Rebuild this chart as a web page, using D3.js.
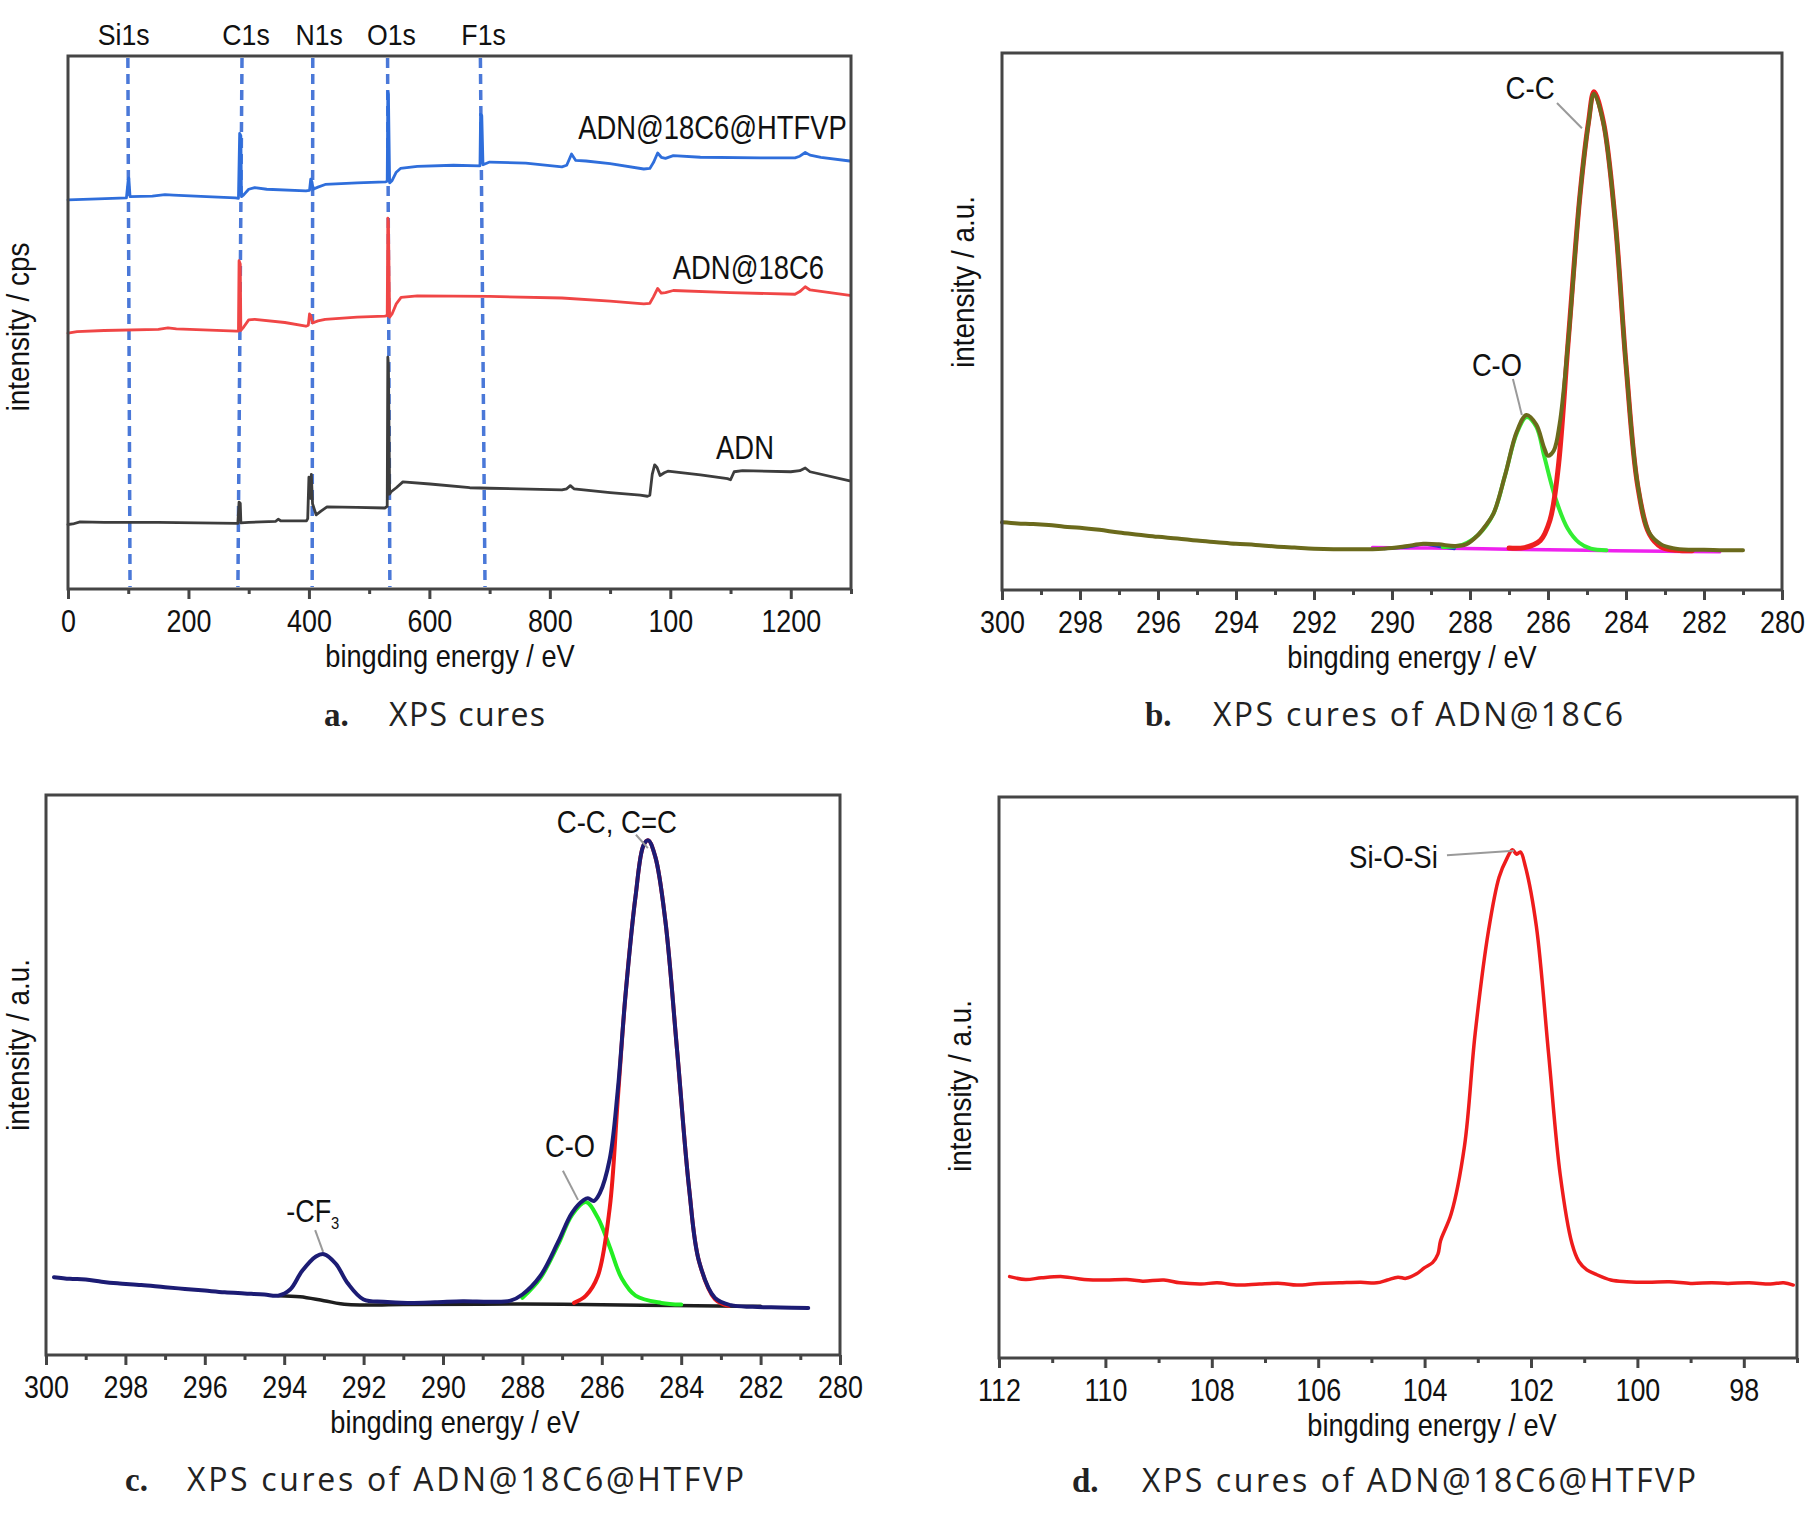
<!DOCTYPE html>
<html><head><meta charset="utf-8">
<script src="https://cdn.jsdelivr.net/npm/d3@7"></script>
<style>body{margin:0;background:#fff}</style>
</head><body>
<svg id="chart" width="1819" height="1519"></svg>
<script>
// ---------------- DATA ----------------
// Panel a: survey spectra [binding energy eV, relative intensity 0-100]
const surveyHTFVP = [[0,73.0],[25,73.1],[50,73.2],[97,73.4],[100,76.8],[101,77.1],[103,73.6],[140,73.7],[161,74.0],[175,73.9],[230,73.6],[278,73.4],[283,73.3],[285,85.5],[287,85.0],[288,73.6],[292,74.0],[300,75.0],[310,75.3],[330,75.0],[395,74.7],[401,74.8],[403,76.9],[405,76.4],[407,75.0],[415,75.4],[427,75.9],[480,76.2],[527,76.4],[530,76.5],[531,93.3],[532,92.8],[534,76.2],[538,76.6],[545,78.2],[552,78.9],[580,79.3],[640,79.5],[684,79.4],[685,89.1],[687,88.8],[689,79.6],[700,80.1],[760,79.9],[820,79.2],[828,79.5],[836,81.6],[843,80.4],[860,80.3],[900,79.8],[956,78.8],[966,78.9],[972,80.0],[979,81.8],[985,81.0],[992,80.8],[1005,81.3],[1050,81.0],[1150,80.9],[1207,80.9],[1215,81.2],[1224,81.9],[1232,81.4],[1250,81.0],[1298,80.3]];
const survey18C6 = [[0,48.0],[15,48.3],[60,48.5],[150,48.7],[166,49.0],[180,48.8],[280,48.4],[283,48.4],[284,61.6],[286,61.0],[287,48.5],[292,49.2],[300,50.5],[310,50.6],[360,50.0],[395,49.3],[399,49.5],[401,51.6],[403,51.3],[406,49.9],[415,50.3],[427,50.6],[480,51.0],[526,51.2],[530,51.3],[531,69.6],[532,69.0],[534,51.0],[538,51.6],[545,53.5],[553,54.7],[580,55.0],[700,54.9],[820,54.6],[900,54.0],[956,53.5],[966,53.6],[972,54.8],[979,56.4],[985,55.5],[992,55.6],[1005,56.0],[1100,55.6],[1207,55.3],[1215,55.8],[1224,56.7],[1232,56.1],[1298,55.1]];
const surveyADN = [[0,12.1],[8,12.2],[20,12.6],[60,12.5],[150,12.5],[282,12.3],[284,16.3],[286,16.1],[287,12.4],[300,12.5],[345,12.7],[349,13.1],[353,12.8],[396,12.8],[398,13.2],[400,21.0],[402,20.2],[403,17.0],[404,21.5],[406,16.0],[412,13.9],[420,14.6],[430,15.4],[480,15.3],[526,15.2],[530,15.5],[531,43.5],[532,42.0],[534,17.8],[536,18.2],[545,19.0],[556,20.1],[601,19.7],[667,19.0],[700,18.9],[820,18.6],[828,18.8],[834,19.4],[840,18.8],[900,18.1],[950,17.6],[962,17.4],[966,17.6],[970,21.5],[974,23.3],[978,22.8],[983,21.3],[990,21.8],[996,22.1],[1050,21.4],[1095,20.7],[1100,20.5],[1106,22.0],[1120,22.2],[1200,22.0],[1215,22.2],[1224,22.7],[1232,22.0],[1298,20.3]];
const surveySeriesNames = ["ADN@18C6@HTFVP","ADN@18C6","ADN"];
const surveyNameAnchor = [[1293,84.4],[1255,58.2],[1172,24.4]];   // label end point (eV, intensity)
const surveyPeakNames = ["Si1s","C1s","N1s","O1s","F1s"];
const surveyPeakLabelE = [92.4,295.6,417,537,690];
const surveyPeakLineTopE = [99.4,288.9,406.4,530.6,684.7];
const surveyPeakLineBottomE = [103,282.1,405.4,534.4,692.4];
const surveyMajorTicks = [0,200,400,600,800,1000,1200];
const surveyTickLabels = ["0","200","400","600","800","100","1200"];
const surveyMinorTicks = [100,300,500,700,900,1100,1300];

// Panel b: C1s of ADN@18C6
const b_envelope = [[300.0,12.6],[299.6,12.4],[299.2,12.3],[298.8,12.1],[298.4,11.8],[298.0,11.6],[297.5,11.2],[297.0,10.7],[296.5,10.3],[296.0,9.9],[295.5,9.6],[295.0,9.2],[294.5,8.9],[294.0,8.6],[293.5,8.4],[293.0,8.1],[292.5,7.9],[292.0,7.7],[291.5,7.6],[291.0,7.6],[290.5,7.6],[290.0,7.8],[289.6,8.2],[289.2,8.6],[288.8,8.5],[288.4,8.2],[288.1,8.5],[287.8,10.2],[287.6,12.0],[287.4,14.2],[287.1,21.4],[286.8,29.5],[286.55,32.6],[286.3,30.8],[286.1,26.5],[286.0,25.0],[285.85,26.0],[285.7,31.0],[285.48,46.5],[285.18,73.5],[284.96,87.0],[284.82,92.4],[284.58,87.0],[284.28,69.0],[284.0,42.0],[283.7,19.6],[283.4,10.6],[283.1,8.5],[282.8,7.8],[282.4,7.5],[282.0,7.5],[281.5,7.4],[281.0,7.4]];
const b_CC = [[287.0,7.8],[286.6,7.9],[286.2,9.2],[285.95,13.0],[285.75,22.0],[285.48,46.5],[285.18,73.5],[284.96,87.2],[284.82,92.8],[284.58,87.2],[284.28,69.0],[284.0,42.0],[283.7,19.4],[283.4,10.4],[283.1,8.0],[282.7,7.4],[282.3,7.3]];
const b_CO = [[288.7,8.0],[288.2,8.4],[287.8,10.2],[287.4,14.2],[287.1,21.4],[286.8,29.2],[286.55,32.2],[286.3,30.4],[286.1,25.0],[285.8,16.9],[285.5,11.5],[285.2,8.8],[284.9,7.7],[284.5,7.4]];
const b_small = [[290.2,7.7],[289.6,8.0],[289.2,8.5],[288.8,8.1],[288.4,7.7]];
const b_background = [[290.5,7.9],[289.0,7.8],[287.0,7.6],[285.0,7.4],[283.0,7.2],[281.6,7.1]];

// Panel c: C1s of ADN@18C6@HTFVP
const c_envelope = [[299.8,13.9],[299.4,13.6],[299.0,13.5],[298.6,13.1],[298.2,12.8],[297.6,12.5],[297.0,12.1],[296.5,11.8],[296.0,11.5],[295.5,11.2],[295.0,11.0],[294.5,10.8],[294.15,10.6],[293.85,11.7],[293.55,15.0],[293.2,17.6],[293.0,18.0],[292.7,16.3],[292.4,12.8],[292.0,9.9],[291.5,9.5],[290.9,9.3],[290.2,9.4],[289.5,9.6],[288.8,9.5],[288.3,9.7],[288.0,10.8],[287.55,14.1],[287.1,20.2],[286.75,25.4],[286.45,27.7],[286.35,28.0],[286.2,27.5],[286.05,28.9],[285.8,35.0],[285.6,47.1],[285.4,64.5],[285.15,81.9],[284.95,91.0],[284.83,91.9],[284.65,88.9],[284.4,77.6],[284.1,54.1],[283.8,29.7],[283.55,16.7],[283.15,10.2],[282.75,8.9],[282.2,8.6],[281.5,8.5],[280.8,8.4]];
const c_CC = [[286.7,9.3],[286.4,10.6],[286.1,14.1],[285.8,26.3],[285.6,45.4],[285.4,64.5],[285.15,81.9],[284.95,91.0],[284.83,91.9],[284.65,88.9],[284.4,77.6],[284.1,54.1],[283.8,29.7],[283.55,16.7],[283.15,10.0],[282.8,8.8]];
const c_CO = [[288.0,10.2],[287.55,13.7],[287.1,19.7],[286.75,25.0],[286.4,27.3],[286.1,24.5],[285.8,19.3],[285.5,13.7],[285.15,10.6],[284.5,9.3],[284.0,9.0]];
const c_background = [[294.15,10.6],[293.6,10.4],[293.0,9.7],[292.4,9.0],[291.0,9.0],[288.0,9.1],[285.0,8.9],[282.5,8.7],[282.0,8.7]];
const cMajorTicks = [300,298,296,294,292,290,288,286,284,282,280];
const cMinorTicks = [299,297,295,293,291,289,287,285,283,281];

// Panel d: Si2p of ADN@18C6@HTFVP
const d_spectrum = [[111.8,14.5],[111.5,14.0],[111.2,14.3],[110.8,14.5],[110.4,14.0],[110.0,13.9],[109.6,14.0],[109.3,13.7],[108.9,13.9],[108.6,13.4],[108.2,13.2],[107.9,13.4],[107.5,13.0],[107.1,13.2],[106.7,13.3],[106.4,13.0],[106.0,13.3],[105.6,13.4],[105.2,13.5],[104.9,13.4],[104.7,13.9],[104.5,14.4],[104.35,14.2],[104.15,15.0],[104.0,16.1],[103.85,17.0],[103.75,18.5],[103.7,20.9],[103.5,25.7],[103.25,37.8],[103.05,57.8],[102.8,76.1],[102.6,85.7],[102.45,89.1],[102.35,90.6],[102.27,89.8],[102.2,90.2],[102.1,87.4],[101.9,77.0],[101.67,54.3],[101.45,32.6],[101.23,20.4],[101.1,17.2],[100.95,15.7],[100.8,15.0],[100.5,13.9],[100.2,13.6],[99.8,13.5],[99.4,13.6],[99.0,13.3],[98.6,13.4],[98.3,13.3],[97.9,13.4],[97.5,13.2],[97.25,13.4],[97.07,13.0]];
const dMajorTicks = [112,110,108,106,104,102,100,98];
const dMinorTicks = [111,109,107,105,103,101,99,97];

const captions = [["a.","XPS cures"],["b.","XPS cures of ADN@18C6"],["c.","XPS cures of ADN@18C6@HTFVP"],["d.","XPS cures of ADN@18C6@HTFVP"]];

// ---------------- DRAWING ----------------
const svg = d3.select("#chart");
const SANS = "'Liberation Sans', Arial, Helvetica, sans-serif";
const FRAME = "#454545";

function txt(g, x, y, str, o) {
  const rot = o.rotate ? " rotate(-90)" : "";
  return g.append("text")
    .attr("transform", `translate(${x},${y})${rot} scale(${o.sx || 1},1)`)
    .attr("text-anchor", o.anchor || "middle")
    .attr("font-family", o.family || SANS)
    .attr("font-size", o.size)
    .attr("font-weight", o.weight || "normal")
    .attr("fill", o.fill || "#111")
    .text(str);
}

function panel(p) {
  const x = d3.scaleLinear().domain(p.xDomain).range([p.box.x0, p.box.x1]);
  const y = d3.scaleLinear().domain([0, 100]).range([p.box.y1, p.box.y0]);
  const g = svg.append("g");
  const minor = g.append("g").attr("transform", `translate(0,${p.box.y1})`)
    .call(d3.axisBottom(x).tickValues(p.minor).tickSize(5).tickFormat(""));
  const major = g.append("g").attr("transform", `translate(0,${p.box.y1})`)
    .call(d3.axisBottom(x).tickValues(p.major).tickSize(10).tickFormat((d, i) => p.labels[i]));
  [minor, major].forEach(a => {
    a.select(".domain").remove();
    a.selectAll(".tick line").attr("stroke", FRAME).attr("stroke-width", 3);
  });
  major.selectAll(".tick text")
    .attr("y", 43).attr("dy", null)
    .attr("font-family", SANS).attr("font-size", 32).attr("fill", "#111")
    .attr("transform", "scale(0.84,1)");
  const plot = g.append("g");
  g.append("rect")
    .attr("x", p.box.x0).attr("y", p.box.y0)
    .attr("width", p.box.x1 - p.box.x0).attr("height", p.box.y1 - p.box.y0)
    .attr("fill", "none").attr("stroke", FRAME).attr("stroke-width", 3);
  // axis titles
  txt(g, p.xTitleX, p.box.y1 + 78, "bingding energy / eV", {size: 32, sx: 0.85});
  txt(g, p.yTitle[0], p.yTitle[1], p.yTitle[2], {size: 32, sx: 0.87, rotate: true});
  // caption
  txt(g, p.cap[0], p.cap[2], p.caption[0], {size: 33, anchor: "start", weight: "bold", family: "'Liberation Serif', 'Times New Roman', serif", fill: "#222"});
  g.append("text").attr("x", p.cap[1]).attr("y", p.cap[2])
    .attr("font-family", "'Open Sans', Lato, sans-serif").attr("font-size", 32).attr("fill", "#222")
    .attr("textLength", p.cap[3]).attr("lengthAdjust", "spacing")
    .text(p.caption[1]);
  return {x, y, g: plot, root: g};
}

function drawLine(P, data, color, width, curve) {
  const line = d3.line().x(d => P.x(d[0])).y(d => P.y(d[1]));
  if (curve) line.curve(d3.curveCatmullRom.alpha(0.5));
  P.g.append("path").datum(data)
    .attr("d", line).attr("fill", "none").attr("stroke", color)
    .attr("stroke-width", width).attr("stroke-linejoin", "round").attr("stroke-linecap", "round");
}

function leader(P, a, b) {
  P.g.append("line")
    .attr("x1", P.x(a[0])).attr("y1", P.y(a[1]))
    .attr("x2", P.x(b[0])).attr("y2", P.y(b[1]))
    .attr("stroke", "#9a9a9a").attr("stroke-width", 2);
}

// ---- Panel a ----
const A = panel({
  box: {x0: 68, x1: 851, y0: 56, y1: 589}, xDomain: [0, 1300],
  major: surveyMajorTicks, minor: surveyMinorTicks, labels: surveyTickLabels,
  xTitleX: 450, yTitle: [29, 327, "intensity / cps"],
  caption: captions[0], cap: [324, 389, 726, 156]
});
surveyPeakNames.forEach((n, i) => {
  A.g.append("line")
    .attr("x1", A.x(surveyPeakLineTopE[i])).attr("y1", A.y(100) + 2)
    .attr("x2", A.x(surveyPeakLineBottomE[i])).attr("y2", A.y(0) - 2)
    .attr("stroke", "#4a78d8").attr("stroke-width", 3.5).attr("stroke-dasharray", "10,6");
  txt(A.root, A.x(surveyPeakLabelE[i]), A.y(100) - 11, n, {size: 29, sx: 0.92});
});
drawLine(A, surveyADN, "#3d3d3d", 2.8, false);
drawLine(A, survey18C6, "#f04646", 2.8, false);
drawLine(A, surveyHTFVP, "#2f6edb", 2.8, false);
surveySeriesNames.forEach((n, i) => {
  txt(A.g, A.x(surveyNameAnchor[i][0]), A.y(surveyNameAnchor[i][1]), n, {size: 33, sx: 0.83, anchor: "end"});
});

// ---- Panel b ----
const B = panel({
  box: {x0: 1002, x1: 1782, y0: 53, y1: 590}, xDomain: [300, 280],
  major: cMajorTicks, minor: cMinorTicks, labels: cMajorTicks.map(String),
  xTitleX: 1412, yTitle: [974, 282, "intensity / a.u."],
  caption: captions[1], cap: [1145, 1213, 726, 410]
});
drawLine(B, b_background, "#ee22ee", 3.5, true);
drawLine(B, b_small, "#2a3bd0", 3, true);
drawLine(B, b_CO, "#33ee33", 4, true);
drawLine(B, b_CC, "#ee2020", 5, true);
drawLine(B, b_envelope, "#6b6a1c", 4, true);
leader(B, [285.77, 90.7], [285.13, 86.0]);
leader(B, [286.9, 39.3], [286.67, 32.6]);
txt(B.g, B.x(286.46), B.y(91.4), "C-C", {size: 31, sx: 0.89});
txt(B.g, B.x(287.31), B.y(39.85), "C-O", {size: 31, sx: 0.88});

// ---- Panel c ----
const C = panel({
  box: {x0: 46, x1: 840, y0: 795, y1: 1355}, xDomain: [300, 280],
  major: cMajorTicks, minor: cMinorTicks, labels: cMajorTicks.map(String),
  xTitleX: 455, yTitle: [29, 1045, "intensity / a.u."],
  caption: captions[2], cap: [125, 187, 1491, 557]
});
drawLine(C, c_background, "#1e1e1e", 3.5, true);
drawLine(C, c_CO, "#22ee22", 4, true);
drawLine(C, c_CC, "#ee1818", 4, true);
drawLine(C, c_envelope, "#1c1c74", 4, true);
leader(C, [285.14, 92.9], [284.84, 90.5]);
leader(C, [286.98, 32.9], [286.6, 27.7]);
leader(C, [293.22, 22.3], [293.02, 18.4]);
txt(C.g, C.x(285.62), C.y(93.2), "C-C, C=C", {size: 31, sx: 0.89});
txt(C.g, C.x(286.8), C.y(35.4), "C-O", {size: 31, sx: 0.88});
const cf = txt(C.g, C.x(293.95), C.y(23.75), "-CF", {size: 31, sx: 0.87, anchor: "start"});
cf.append("tspan").attr("font-size", 17).attr("dy", 7).text("3");

// ---- Panel d ----
const D = panel({
  box: {x0: 999, x1: 1797, y0: 797, y1: 1358}, xDomain: [112, 97],
  major: dMajorTicks, minor: dMinorTicks, labels: dMajorTicks.map(String),
  xTitleX: 1432, yTitle: [971, 1086, "intensity / a.u."],
  caption: captions[3], cap: [1072, 1142, 1492, 554]
});
drawLine(D, d_spectrum, "#ee1c1c", 3.5, true);
leader(D, [103.58, 89.6], [102.32, 90.4]);
txt(D.g, D.x(103.75), D.y(87.3), "Si-O-Si", {size: 31, sx: 0.89, anchor: "end"});
</script>
</body></html>
